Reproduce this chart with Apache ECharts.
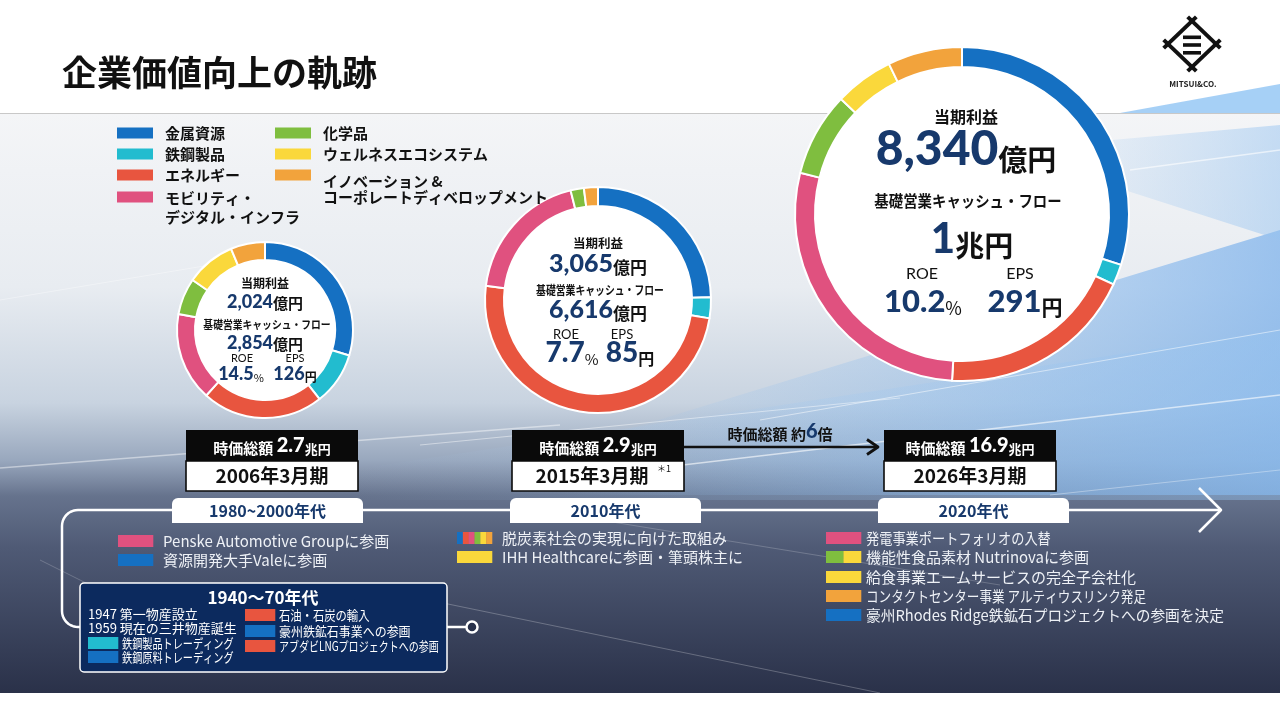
<!DOCTYPE html>
<html><head><meta charset="utf-8">
<script src="https://cdn.jsdelivr.net/npm/echarts@6/dist/echarts.min.js"></script>
<style>html,body{margin:0;padding:0;background:#fff}#c{width:1280px;height:720px}</style>
</head><body><div id="c"></div>
<script>
// ---------- DATA ----------
const categories = ['金属資源','鉄鋼製品','エネルギー','モビリティ・\nデジタル・インフラ','化学品','ウェルネスエコシステム','イノベーション &\nコーポレートディベロップメント'];
const share2006 = [29.7, 9.7, 22.3, 16.3, 6.7, 9.1, 6.3];
const share2015 = [24.6, 3.0, 49.4, 19.1, 1.9, 0, 2.0];
const share2026 = [29.9, 2.0, 19.0, 28.0, 8.1, 5.7, 7.2];
const periods = ['2006年3月期','2015年3月期','2026年3月期'];
const marketCap = ['2.7','2.9','16.9'];
const netIncome = ['2,024','3,065','8,340'];
const coreCashFlow = ['2,854','6,616','1'];
const coreCashFlowUnit = ['億円','億円','兆円'];
const roe = ['14.5','7.7','10.2'];
const eps = ['126','85','291'];
const eras = ['1980~2000年代','2010年代','2020年代'];
const capMultiple = '6';
const events1980s = [
  {text:'Penske Automotive Groupに参画', cats:[3]},
  {text:'資源開発大手Valeに参画', cats:[0]}
];
const events2010s = [
  {text:'脱炭素社会の実現に向けた取組み', cats:[0,2,3,4,5,6]},
  {text:'IHH Healthcareに参画・筆頭株主に', cats:[5]}
];
const events2020s = [
  {text:'発電事業ポートフォリオの入替', cats:[3]},
  {text:'機能性食品素材 Nutrinovaに参画', cats:[4,5]},
  {text:'給食事業エームサービスの完全子会社化', cats:[5]},
  {text:'コンタクトセンター事業 アルティウスリンク発足', cats:[6]},
  {text:'豪州Rhodes Ridge鉄鉱石プロジェクトへの参画を決定', cats:[0]}
];
const historyLeft = [
  {text:'1947 第一物産設立', cats:[]},
  {text:'1959 現在の三井物産誕生', cats:[]},
  {text:'鉄鋼製品トレーディング', cats:[1]},
  {text:'鉄鋼原料トレーディング', cats:[0]}
];
const historyRight = [
  {text:'石油・石炭の輸入', cats:[2]},
  {text:'豪州鉄鉱石事業への参画', cats:[0]},
  {text:'アブダビLNGプロジェクトへの参画', cats:[2]}
];

// ---------- STYLE ----------
const COLORS = ['#1570c2','#22bccf','#e8553f','#e0517f','#7fbe3f','#fad83b','#f2a33c'];
const NAVY = '#17396c';
const JP = '"Noto Sans CJK JP", sans-serif';
const NUMF = 'Lato, "Noto Sans CJK JP", sans-serif';

const G = [];
function add(e){ G.push(e); return e; }
function rect(x,y,w,h,fill,o){ o=o||{}; return add({type:'rect', silent:true, z:o.z!=null?o.z:1,
  shape:{x:x,y:y,width:w,height:h,r:o.r||0},
  style:{fill:fill, stroke:o.stroke||null, lineWidth:o.lw||0, opacity:o.op!=null?o.op:1}}); }
function poly(points, stroke, lw, o){ o=o||{}; return add({type:'polyline', silent:true, z:o.z!=null?o.z:1,
  shape:{points:points}, style:{stroke:stroke, lineWidth:lw, fill:null, opacity:o.op!=null?o.op:1, lineCap:o.cap||'butt', lineJoin:'round'}}); }
function polygon(points, fill, o){ o=o||{}; return add({type:'polygon', silent:true, z:o.z!=null?o.z:1,
  shape:{points:points}, style:{fill:fill, opacity:o.op!=null?o.op:1}}); }
function text(x,y,str,o){ o=o||{};
  const al = o.align||'center', va = o.va||'middle';
  const st = {text:str, x:0, y:0, font:(o.weight||'bold')+' '+(o.size||14)+'px '+(o.family||JP),
    fill:o.color||'#111', align:al, verticalAlign:va, textAlign:al, textVerticalAlign:va};
  if (o.rich) st.rich = o.rich;
  if (o.lh) st.lineHeight = o.lh;
  return add({type:'text', silent:true, x:x, y:y, scaleX:o.sx||1, z:o.z!=null?o.z:20, style:st}); }
function tok(size, color, family, weight){ return {font:(weight||'bold')+' '+size+'px '+(family||JP), fill:color, verticalAlign:'bottom'}; }
function swatch(x,y,w,h,cats,z){ const n=cats.length; cats.forEach(function(c,i){ rect(x+w*i/n, y, w/n+0.3, h, COLORS[c], {z:z||12}); }); }
function arcPts(cx,cy,r,a0,a1){ const pts=[]; for(let k=0;k<=10;k++){ const a=(a0+(a1-a0)*k/10)*Math.PI/180; pts.push([cx+r*Math.cos(a), cy+r*Math.sin(a)]); } return pts; }

// ---------- BACKGROUND ----------
rect(0,113,1280,580,{type:'linear',x:0,y:0,x2:0,y2:1,colorStops:[
  {offset:0,color:'#f4f5f7'},{offset:0.3,color:'#e8ecf1'},{offset:0.5,color:'#c8d3e0'},
  {offset:0.6,color:'#98a7bd'},{offset:0.66,color:'#66738d'},{offset:0.75,color:'#4f5a75'},{offset:1,color:'#2a3149'}]},{z:0});
polygon([[560,450],[1280,230],[1280,495],[560,495]],{type:'linear',x:0,y:0,x2:1,y2:0,colorStops:[
  {offset:0,color:'rgba(150,195,240,0)'},{offset:1,color:'rgba(120,175,235,0.7)'}]},{z:1});
polygon([[350,470],[1280,330],[1280,500],[350,500]],{type:'linear',x:0,y:0,x2:1,y2:0,colorStops:[
  {offset:0,color:'rgba(170,205,240,0)'},{offset:1,color:'rgba(150,195,240,0.45)'}]},{z:1});
polygon([[1000,150],[1280,125],[1280,240]],{type:'linear',x:0,y:0,x2:1,y2:0,colorStops:[
  {offset:0,color:'rgba(170,205,240,0)'},{offset:1,color:'rgba(150,195,240,0.5)'}]},{z:1});
// streaks
poly([[640,470],[1280,395]],'#ffffff',1.5,{op:0.6});
poly([[760,420],[1280,330]],'#ffffff',1.2,{op:0.5});
poly([[420,445],[900,398]],'#ffffff',1.2,{op:0.45});
poly([[0,468],[560,425]],'#ffffff',1.5,{op:0.45});
poly([[0,300],[300,250]],'#ffffff',1,{op:0.35});
poly([[1130,170],[1280,150]],'#ffffff',1.5,{op:0.6});
poly([[380,590],[880,693]],'#ffffff',1,{op:0.25});
poly([[600,520],[1000,585]],'#ffffff',1,{op:0.2});
poly([[40,560],[140,610]],'#ffffff',1,{op:0.2});
poly([[1050,495],[1280,470]],'#ffffff',1.2,{op:0.35});

// ---------- HEADER ----------
rect(0,0,1280,113,'#ffffff',{z:2});
poly([[0,113.5],[1280,113.5]],'#c8c8c8',1,{z:3});
polygon([[1120,113],[1280,84],[1280,113]],'rgba(150,200,245,0.85)',{z:3});
text(62,73,'企業価値向上の軌跡',{size:35,align:'left',z:4});
// logo
(function(){
  const T=[1192,21],R=[1216,44],B=[1192,67],L=[1168,44];
  [[L,T],[T,R],[R,B],[B,L]].forEach(function(s){
    const dx=s[1][0]-s[0][0], dy=s[1][1]-s[0][1], d=Math.sqrt(dx*dx+dy*dy), ux=dx/d*6, uy=dy/d*6;
    poly([[s[0][0]-ux,s[0][1]-uy],[s[1][0]+ux,s[1][1]+uy]],'#111',4,{z:4});
  });
  [35.5,43.2,51].forEach(function(y){ rect(1183,y,18,3.6,'#111',{z:4}); });
  text(1193,84,'MITSUI&CO.',{size:8,z:4,color:'#222'});
})();

// ---------- LEGEND ----------
const legendPos = [[117,133],[117,154],[117,175],[117,197],[275,133],[275,154],[275,175]];
const legendTextTop = [124,145,166,188.5,124,145,173];
const legendLH = [19,19,19,19,19,19,16];
categories.forEach(function(c,i){
  const p = legendPos[i];
  rect(p[0], p[1]-5.5, 36, 11, COLORS[i], {z:12});
  text(p[0]+48, legendTextTop[i], c, {size:15, align:'left', va:'top', lh:legendLH[i], z:12});
});

// ---------- DONUTS ----------
const donuts = [
  {center:[265,330], radius:[70,88], values:share2006},
  {center:[598,300], radius:[94,113], values:share2015},
  {center:[962,214], radius:[147,167], values:share2026}
];
const series = donuts.map(function(d){
  add({type:'circle', silent:true, z:3, shape:{cx:d.center[0], cy:d.center[1], r:d.radius[1]}, style:{fill:'#ffffff'}});
  return {type:'pie', center:d.center, radius:d.radius, startAngle:90, clockwise:true, silent:true, z:5,
    label:{show:false}, labelLine:{show:false}, emphasis:{disabled:true}, animation:false,
    itemStyle:{borderColor:'#ffffff', borderWidth:2},
    data: categories.map(function(c,i){ return {name:c, value:d.values[i], itemStyle:{color:COLORS[i]}}; })
      .filter(function(x){ return x.value>0; })};
});

const dText = [
  {cx:265, head:[283,12], ni:[302,18,15], cfh:[325,11,0.89], cf:[343,18,15], lab:[358,11,[242,295]], val:[374,18,11,12,[241,295]]},
  {cx:598, head:[243,12.5], ni:[264,25,17], cfh:[290,12,0.82], cf:[310,25,17], lab:[335,13,[566,622]], val:[353,28,15,16,[572,630]]},
  {cx:966, head:[117,16], ni:[150,48,29], cfh:[201,15.5,0.93], cf:[239,42,29], lab:[274,16,[922,1020]], val:[302,31,18,21,[923,1025]]}
];
dText.forEach(function(t,i){
  text(t.cx, t.head[0], '当期利益', {size:t.head[1]});
  text(t.cx, t.ni[0], '{n|'+netIncome[i]+'}{u|億円}', {size:t.ni[1], rich:{n:tok(t.ni[1],NAVY,NUMF,'900'), u:tok(t.ni[2],'#111')}});
  text(t.cx+2, t.cfh[0], '基礎営業キャッシュ・フロー', {size:t.cfh[1], sx:t.cfh[2]});
  text(t.cx+(i===2?6:0), t.cf[0], '{n|'+coreCashFlow[i]+'}{u|'+coreCashFlowUnit[i]+'}', {size:t.cf[1], rich:{n:tok(t.cf[1],NAVY,NUMF,'900'), u:tok(t.cf[2],'#111')}});
  text(t.lab[2][0], t.lab[0], 'ROE', {size:t.lab[1], weight:'normal', family:NUMF});
  text(t.lab[2][1], t.lab[0], 'EPS', {size:t.lab[1], weight:'normal', family:NUMF});
  text(t.val[4][0], t.val[0], '{n|'+roe[i]+'}{u|%}', {size:t.val[1], rich:{n:tok(t.val[1],NAVY,NUMF,'900'), u:tok(t.val[2],'#111',JP,'normal')}});
  text(t.val[4][1], t.val[0], '{n|'+eps[i]+'}{u|円}', {size:t.val[1], rich:{n:tok(t.val[1],NAVY,NUMF,'900'), u:tok(t.val[3],'#111')}});
});

// ---------- MARKET CAP BOXES ----------
const boxX = [186, 512, 884];
boxX.forEach(function(x,i){
  const w = 172;
  rect(x,430,w,31,'#0a0a0a',{z:12});
  rect(x,461,w,30,'#ffffff',{z:12, stroke:'#0a0a0a', lw:1.6});
  text(x+w/2, 446, '{a|時価総額 }{n|'+marketCap[i]+'}{u|兆円}', {size:15, color:'#fff', z:14,
    rich:{a:tok(15,'#fff'), n:tok(20,'#fff',NUMF,'900'), u:tok(13,'#fff')}});
  text(x+w/2 - (i===1?6:0), 476, periods[i], {size:19, z:14});
});
text(664, 469, '＊1', {size:9, z:14, weight:'normal'});
poly([[684,447],[877,447]],'#111',2.5,{z:12});
poly([[867,439.5],[878,447],[867,454.5]],'#111',2.8,{z:12});
text(780, 432, '{a|時価総額 約}{n|'+capMultiple+'}{a|倍}', {size:15, z:14,
  rich:{a:tok(15,'#111'), n:tok(20,NAVY,NUMF,'900')}});

// ---------- TIMELINE ----------
const tl = [[1221,510],[78,510]].concat(arcPts(78,526,16,270,180)).concat([[62,611]]).concat(arcPts(78,611,16,180,90)).concat([[466,627]]);
poly(tl,'#ffffff',2.5,{z:8});
poly([[1199,488],[1221,510],[1199,532]],'#ffffff',2.5,{z:8});
add({type:'circle', silent:true, z:9, shape:{cx:472, cy:627, r:5.5}, style:{fill:'#27304a', stroke:'#ffffff', lineWidth:2.5}});
const tabX = [172, 510, 878];
eras.forEach(function(e,i){
  rect(tabX[i],498,191,25,'#ffffff',{z:10, r:[6,6,0,0]});
  text(tabX[i]+95.5, 511, e, {size:16, color:NAVY, z:11});
});

function eventList(list, sx, tx, ys, size, color, scale){
  list.forEach(function(ev,i){
    if (ev.cats.length) swatch(sx, ys[i]-6, 35, 12, ev.cats);
    text(tx, ys[i], ev.text, {size:size, weight:'normal', align:'left', color:color, sx:scale?scale[i]:1, z:12});
  });
}
eventList(events1980s, 118, 163, [541,560], 15, '#eef1f6');
eventList(events2010s, 457, 502, [538,557], 15, '#eef1f6');
eventList(events2020s, 826, 866, [538,557,577,596,615], 15, '#eef1f6', [0.88,1,1,0.84,0.98]);

// ---------- 1940-70s BOX ----------
rect(80,583,367,89,'#0c2a5e',{z:10, r:4, stroke:'#ffffff', lw:1.5});
text(263, 598, '1940〜70年代', {size:17, color:'#fff', z:12});
historyLeft.forEach(function(ev,i){
  const y = [614,628,643,657][i];
  if (ev.cats.length){ swatch(88, y-6, 30, 12, ev.cats, 12); }
  text(ev.cats.length?122:88, y, ev.text, {size:13, weight:'normal', align:'left', color:'#fff', sx:ev.cats.length?0.78:1, z:12});
});
historyRight.forEach(function(ev,i){
  const y = [615,631,646][i];
  swatch(245, y-6, 30, 12, ev.cats, 12);
  text(279, y, ev.text, {size:13, weight:'normal', align:'left', color:'#fff', sx:[0.87,0.92,0.77][i], z:12});
});

const chart = echarts.init(document.getElementById('c'), null, {renderer:'canvas'});
chart.setOption({animation:false, series:series, graphic:{elements:G}});
</script>
</body></html>
